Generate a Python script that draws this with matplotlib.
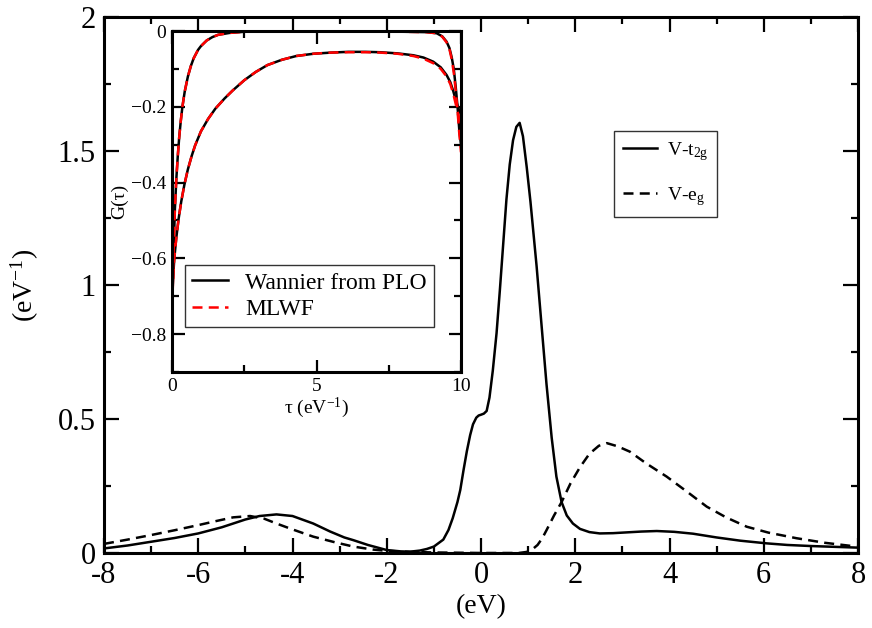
import matplotlib
matplotlib.use("Agg")
import matplotlib.pyplot as plt
from matplotlib.ticker import MultipleLocator

plt.rcParams['font.family'] = ['Liberation Serif', 'DejaVu Serif']
plt.rcParams['mathtext.fontset'] = 'custom'
plt.rcParams['mathtext.rm'] = 'Liberation Serif'
plt.rcParams['mathtext.it'] = 'Liberation Serif:italic'

# ---- main panel data: energy (eV) and spectral function (1/eV)
t2g_E = [-8, -7.5, -7, -6.5, -6, -5.5, -5, -4.7, -4.34, -4.0, -3.56, -3.2, -2.9, -2.71,
         -2.4, -2.0, -1.7, -1.5, -1.3, -1.15, -1.0, -0.8, -0.69, -0.6, -0.5, -0.44,
         -0.37, -0.30, -0.23, -0.17, -0.10, -0.05, 0.0, 0.06, 0.12, 0.18, 0.25, 0.33,
         0.40, 0.47, 0.54, 0.61, 0.68, 0.75, 0.82, 0.89, 0.97, 1.05, 1.18, 1.28, 1.39,
         1.5, 1.6, 1.71, 1.82, 1.95, 2.1, 2.3, 2.52, 2.8, 3.1, 3.4, 3.73, 4.1, 4.5,
         5.0, 5.5, 6.06, 6.5, 7.0, 7.5, 8.0]
t2g_A = [0.017, 0.028, 0.042, 0.056, 0.073, 0.096, 0.125, 0.138, 0.144, 0.138, 0.11,
         0.08, 0.058, 0.048, 0.03, 0.011, 0.006, 0.005, 0.009, 0.015, 0.024, 0.05,
         0.086, 0.13, 0.19, 0.235, 0.31, 0.38, 0.44, 0.48, 0.505, 0.513, 0.516, 0.52,
         0.53, 0.58, 0.68, 0.82, 0.98, 1.15, 1.32, 1.45, 1.54, 1.59, 1.605, 1.555,
         1.44, 1.31, 1.07, 0.86, 0.63, 0.43, 0.285, 0.19, 0.14, 0.11, 0.09, 0.078,
         0.073, 0.074, 0.077, 0.08, 0.082, 0.079, 0.072, 0.058, 0.046, 0.036, 0.03,
         0.026, 0.023, 0.02]

eg_E = [-8, -7.5, -7, -6.5, -6, -5.6, -5.26, -4.9, -4.6, -4.34, -4.0, -3.56, -3.1,
        -2.71, -2.3, -2.0, -1.5, -1.0, 0.0, 0.8, 0.97, 1.1, 1.2, 1.3, 1.39, 1.55,
        1.71, 1.9, 2.1, 2.3, 2.5, 2.67, 2.9, 3.16, 3.5, 3.94, 4.4, 4.79, 5.2, 5.64,
        6.1, 6.7, 7.3, 7.97]
eg_A = [0.034, 0.05, 0.067, 0.085, 0.104, 0.12, 0.133, 0.138, 0.128, 0.11, 0.088,
        0.061, 0.04, 0.024, 0.013, 0.008, 0.004, 0.002, 0.0, 0.0, 0.004, 0.015, 0.03,
        0.055, 0.085, 0.14, 0.19, 0.26, 0.32, 0.37, 0.40, 0.41, 0.398, 0.378, 0.335,
        0.285, 0.225, 0.173, 0.133, 0.098, 0.076, 0.055, 0.038, 0.024]

# ---- inset data: imaginary time tau (1/eV) and G(tau)
plo_fast_tau = [0, 0.03, 0.06, 0.1, 0.15, 0.2, 0.25, 0.3, 0.36, 0.44, 0.55, 0.65,
                0.75, 0.9, 1.0, 1.2, 1.4, 1.6, 2.0, 2.5, 3.5, 6.0, 8.0, 8.8, 9.16,
                9.35, 9.5, 9.6, 9.68, 9.75, 9.82, 9.88, 9.94, 10.0]
plo_fast_G = [-0.78, -0.66, -0.57, -0.47, -0.39, -0.33, -0.28, -0.24, -0.20, -0.16,
              -0.12, -0.093, -0.072, -0.05, -0.04, -0.025, -0.016, -0.01, -0.005,
              -0.002, -0.001, -0.001, -0.002, -0.003, -0.006, -0.014, -0.028,
              -0.045, -0.07, -0.10, -0.15, -0.20, -0.26, -0.30]
plo_slow_tau = [0, 0.035, 0.08, 0.15, 0.23, 0.32, 0.43, 0.55, 0.68, 0.8, 1.0, 1.25,
                1.5, 1.82, 2.1, 2.5, 2.9, 3.3, 3.8, 4.3, 4.9, 5.5, 6.1, 6.7, 7.2, 7.8,
                8.35, 8.7, 9.04, 9.3, 9.5, 9.63, 9.73, 9.81, 9.87, 9.94, 10.0]
plo_slow_G = [-0.72, -0.655, -0.60, -0.545, -0.495, -0.45, -0.405, -0.365, -0.33,
              -0.302, -0.265, -0.232, -0.205, -0.178, -0.157, -0.13, -0.108, -0.09,
              -0.076, -0.066, -0.06, -0.057, -0.055, -0.055, -0.056, -0.059, -0.064,
              -0.07, -0.081, -0.096, -0.116, -0.135, -0.158, -0.18, -0.195, -0.21,
              -0.22]
mlwf_fast_tau = [0, 0.03, 0.06, 0.1, 0.15, 0.2, 0.25, 0.3, 0.36, 0.44, 0.55, 0.65,
                 0.75, 0.9, 1.0, 1.2, 1.4, 1.6, 2.0, 2.5, 3.5, 6.0, 8.0, 8.8, 9.16,
                 9.35, 9.5, 9.6, 9.68, 9.75, 9.82, 9.88, 9.94, 10.0]
mlwf_fast_G = [-0.80, -0.67, -0.57, -0.47, -0.39, -0.33, -0.28, -0.24, -0.20, -0.16,
               -0.12, -0.093, -0.072, -0.05, -0.04, -0.025, -0.016, -0.01, -0.005,
               -0.002, -0.001, -0.001, -0.002, -0.003, -0.006, -0.015, -0.03,
               -0.048, -0.075, -0.11, -0.16, -0.21, -0.27, -0.32]
mlwf_slow_tau = [0, 0.035, 0.08, 0.15, 0.23, 0.32, 0.43, 0.55, 0.68, 0.8, 1.0, 1.25,
                 1.5, 1.82, 2.1, 2.5, 2.9, 3.3, 3.8, 4.3, 4.9, 5.5, 6.1, 6.7, 7.2, 7.8,
                 8.35, 8.7, 9.04, 9.3, 9.5, 9.63, 9.73, 9.81, 9.87, 9.94, 10.0]
mlwf_slow_G = [-0.74, -0.66, -0.60, -0.545, -0.495, -0.45, -0.405, -0.365, -0.33,
               -0.302, -0.265, -0.232, -0.205, -0.178, -0.157, -0.13, -0.108, -0.09,
               -0.076, -0.066, -0.06, -0.057, -0.056, -0.056, -0.057, -0.06, -0.066,
               -0.073, -0.085, -0.10, -0.12, -0.14, -0.165, -0.19, -0.21, -0.23,
               -0.25]

main_xticks = [-8, -6, -4, -2, 0, 2, 4, 6, 8]
main_xticklabels = ['-8', '-6', '-4', '-2', '0', '2', '4', '6', '8']
main_yticks = [0, 0.5, 1, 1.5, 2]
main_yticklabels = ['0', '0.5', '1', '1.5', '2']
inset_xticks = [0, 5, 10]
inset_xticklabels = ['0', '5', '10']
inset_yticks = [0, -0.2, -0.4, -0.6, -0.8]
inset_yticklabels = ['0', '\u22120.2', '\u22120.4', '\u22120.6', '\u22120.8']

W, H = 872, 628
fig = plt.figure(figsize=(W / 100, H / 100), dpi=100)

def fbox(x0, y0, x1, y1):
    return [x0 / W, 1 - y1 / H, (x1 - x0) / W, (y1 - y0) / H]

dash = (0, (4, 2.5))
ax = fig.add_axes(fbox(104, 17, 858, 553))
ax.plot(t2g_E, t2g_A, color='black', lw=1.8, label=r'V-t$_{\mathrm{2g}}$')
ax.plot(eg_E, eg_A, color='black', lw=1.8, ls=dash, label=r'V-e$_{\mathrm{g}}$')
ax.set_xlim(-8, 8)
ax.set_ylim(0, 2)
ax.set_xticks(main_xticks)
ax.set_xticklabels(main_xticklabels)
ax.set_yticks(main_yticks)
ax.set_yticklabels(main_yticklabels)
ax.xaxis.set_minor_locator(MultipleLocator(1))
ax.yaxis.set_minor_locator(MultipleLocator(0.25))
ax.tick_params(which='both', direction='in', top=True, right=True, width=1.6)
ax.tick_params(which='major', length=11, labelsize=22, pad=6)
ax.tick_params(which='minor', length=5)
for s in ax.spines.values():
    s.set_linewidth(2.2)
ax.set_xlabel('(eV)', fontsize=20, labelpad=3)
ax.set_ylabel(r'(eV$^{-1}$)', fontsize=20, labelpad=12)
leg = ax.legend(loc='upper left', bbox_to_anchor=(614 / W, 1 - 131 / H),
                bbox_transform=fig.transFigure, borderaxespad=0, frameon=True,
                fancybox=False, edgecolor='black', fontsize=14, handlelength=1.75,
                handletextpad=0.5, labelspacing=1.15, borderpad=0.45)
leg.get_frame().set_linewidth(1.0)

ins = fig.add_axes(fbox(172, 31, 461, 372))
ins.plot(plo_fast_tau, plo_fast_G, color='black', lw=1.8, label='Wannier from PLO')
ins.plot(plo_slow_tau, plo_slow_G, color='black', lw=1.8)
ins.plot(mlwf_fast_tau, mlwf_fast_G, color='red', lw=1.8, ls=dash, label='MLWF')
ins.plot(mlwf_slow_tau, mlwf_slow_G, color='red', lw=1.8, ls=dash)
ins.set_xlim(0, 10)
ins.set_ylim(-0.9, 0)
ins.set_xticks(inset_xticks)
ins.set_xticklabels(inset_xticklabels)
ins.set_yticks(inset_yticks)
ins.set_yticklabels(inset_yticklabels)
ins.xaxis.set_minor_locator(MultipleLocator(2.5))
ins.yaxis.set_minor_locator(MultipleLocator(0.1))
ins.tick_params(which='both', direction='in', top=True, right=True, width=1.6)
ins.tick_params(which='major', length=9, labelsize=14, pad=4)
ins.tick_params(which='minor', length=5)
for s in ins.spines.values():
    s.set_linewidth(2.2)
ins.set_xlabel(u'\u03c4 (eV$^{-1}$)', fontsize=14, labelpad=1)
ins.set_ylabel(u'G(\u03c4)', fontsize=14, labelpad=2)
leg2 = ins.legend(loc='upper left', bbox_to_anchor=(185 / W, 1 - 265 / H),
                  bbox_transform=fig.transFigure, borderaxespad=0, frameon=True,
                  fancybox=False, edgecolor='black', fontsize=17, handlelength=1.5,
                  handletextpad=0.75, labelspacing=0.2, borderpad=0.3)
leg2.get_frame().set_linewidth(1.0)

fig.savefig('out.png', dpi=100)
